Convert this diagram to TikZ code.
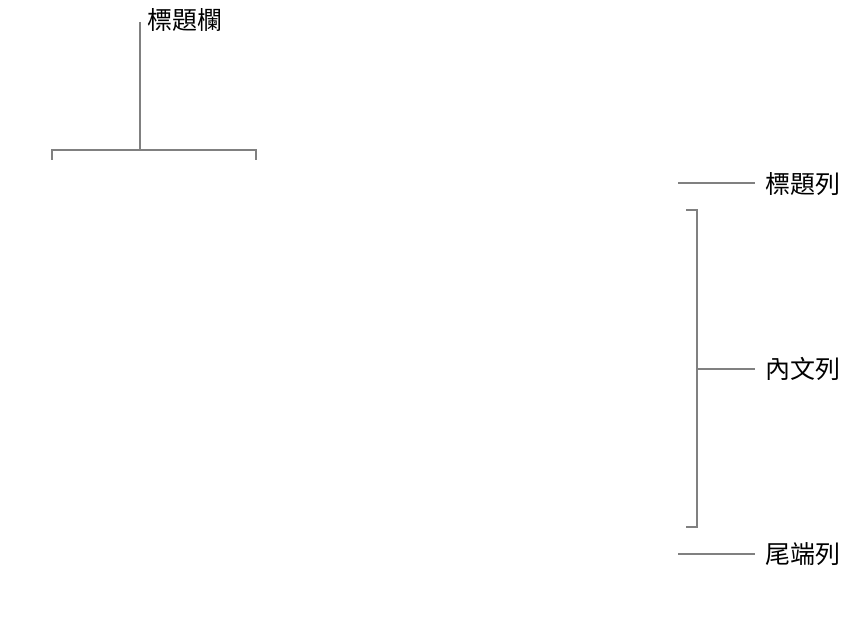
\documentclass[tikz,border=0pt]{standalone}
\usepackage{fontspec}
\newfontfamily\cjk{Noto Sans CJK TC}
\begin{document}
\begin{tikzpicture}[x=1pt,y=-1pt,
  lbl/.style={anchor=west,inner sep=0pt,font=\cjk\fontsize{25}{28}\selectfont},
  ln/.style={draw={rgb,255:red,128;green,128;blue,128},line width=2.6pt}]
\useasboundingbox (0,0) rectangle (862,617);
\node[lbl] (col) at (147,20) {標題欄};
\node[lbl] (hr) at (765,184) {標題列};
\node[lbl] (br) at (765,369) {內文列};
\node[lbl] (fr) at (765,554) {尾端列};
\coordinate (ct) at (140,22);
\coordinate (cb) at (140,150);
\draw[ln] (ct) -- (cb);
\draw[ln] (52,160) -- (52,150) -- (256,150) -- (256,160);
\coordinate (h0) at (678,183);
\coordinate (h1) at (755,183);
\draw[ln] (h0) -- (h1);
\draw[ln] (686,210) -- (697,210) -- (697,527) -- (686,527);
\coordinate (b0) at (697,369);
\coordinate (b1) at (755,369);
\draw[ln] (b0) -- (b1);
\coordinate (f0) at (678,554);
\coordinate (f1) at (755,554);
\draw[ln] (f0) -- (f1);
\end{tikzpicture}
\end{document}
